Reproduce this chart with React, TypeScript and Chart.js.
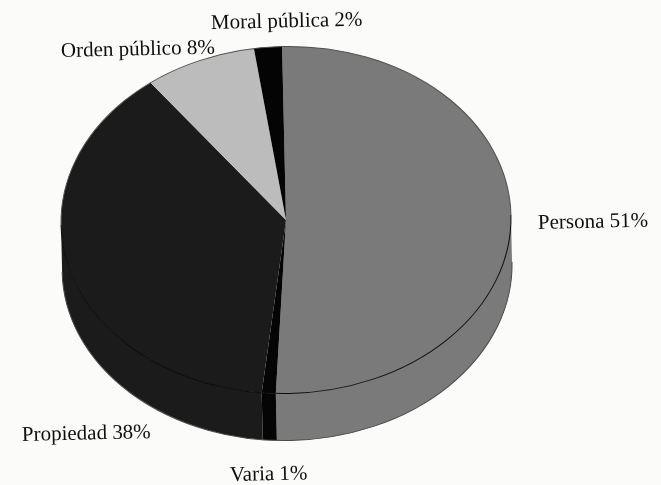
import React, { useEffect, useRef } from "react";
import { Chart, registerables } from "chart.js";

Chart.register(...registerables);

// Delitos por bien jurídico afectado, en porcentaje
const categories = ["Persona", "Varia", "Propiedad", "Orden público", "Moral pública"];
const percentages = [51, 1, 38, 8, 2];
const sliceColors = ["#7a7a7a", "#050505", "#1b1b1b", "#bcbcbc", "#040404"];

const PAPER = "#fbfbfa";
const FACE_CENTER_Y = 220;
const FACE_RADIUS_Y = 173.5;
const WALL_DEPTH = 47;
const PAGE_SKEW = (-1.3 * Math.PI) / 180;

// Pen position of each caption, in category order
const captionSpots: [number, number][] = [
  [538, 229],
  [230, 481],
  [22, 441],
  [61, 57],
  [211, 29],
];

const tiltedPie = {
  id: "tiltedPie",
  beforeDatasetsDraw(chart: any) {
    const { ctx } = chart;
    const arcs = chart.getDatasetMeta(0).data;
    const cx = arcs[0].x;
    const cy = arcs[0].y;
    const r = arcs[0].outerRadius;
    const squash = FACE_RADIUS_Y / r;

    // The whole pie leans with the printed page
    ctx.save();
    ctx.translate(cx, FACE_CENTER_Y);
    ctx.rotate(PAGE_SKEW);
    ctx.translate(-cx, -FACE_CENTER_Y);

    // Side wall: only the front half of the rim can be seen
    arcs.forEach((arc: any) => {
      const from = Math.max(arc.startAngle, 0);
      const to = Math.min(arc.endAngle, Math.PI);
      if (to <= from) return;
      ctx.beginPath();
      ctx.ellipse(cx, FACE_CENTER_Y, r, FACE_RADIUS_Y, 0, from, to);
      ctx.ellipse(cx, FACE_CENTER_Y + WALL_DEPTH, r, FACE_RADIUS_Y, 0, to, from, true);
      ctx.closePath();
      ctx.fillStyle = arc.options.backgroundColor;
      ctx.fill();
    });

    // Lower contour of the wall
    ctx.beginPath();
    ctx.ellipse(cx, FACE_CENTER_Y + WALL_DEPTH, r, FACE_RADIUS_Y, 0, 0, Math.PI);
    ctx.strokeStyle = "#4a4a4a";
    ctx.lineWidth = 1;
    ctx.stroke();

    // Top face, flattened from the library's round slices
    ctx.save();
    ctx.translate(cx, FACE_CENTER_Y);
    ctx.scale(1, squash);
    ctx.translate(-cx, -cy);
    arcs.forEach((arc: any) => arc.draw(ctx));
    ctx.restore();

    // Back of the rim is faint, its front edge is a sharp dark line
    ctx.beginPath();
    ctx.ellipse(cx, FACE_CENTER_Y, r, FACE_RADIUS_Y, 0, Math.PI, Math.PI * 2);
    ctx.strokeStyle = "#4f4f4f";
    ctx.lineWidth = 1;
    ctx.stroke();
    ctx.beginPath();
    ctx.ellipse(cx, FACE_CENTER_Y, r, FACE_RADIUS_Y, 0, 0, Math.PI);
    ctx.strokeStyle = "#0c0c0c";
    ctx.stroke();

    ctx.restore();
    return false;
  },
  afterDraw(chart: any) {
    const { ctx } = chart;
    ctx.save();
    ctx.fillStyle = "#0e0e0e";
    ctx.font = '21px "Liberation Serif"';
    ctx.textBaseline = "alphabetic";
    categories.forEach((name, i) => {
      const [x, y] = captionSpots[i];
      ctx.save();
      ctx.translate(x, y);
      ctx.rotate(PAGE_SKEW);
      ctx.fillText(`${name} ${percentages[i]}%`, 0, 0);
      ctx.restore();
    });
    ctx.restore();
  },
};

export default function App() {
  const canvasRef = useRef<HTMLCanvasElement>(null);

  useEffect(() => {
    document.body.style.margin = "0";
    document.body.style.background = PAPER;
    const chart = new Chart(canvasRef.current!, {
      type: "pie",
      data: {
        labels: categories,
        datasets: [
          {
            data: percentages,
            backgroundColor: sliceColors,
            borderWidth: 0,
            hoverOffset: 0,
          },
        ],
      },
      options: {
        responsive: false,
        animation: false,
        layout: { padding: { left: 61, right: 150, top: 0, bottom: 35 } },
        plugins: { legend: { display: false }, tooltip: { enabled: false } },
      },
      plugins: [tiltedPie],
    });
    return () => chart.destroy();
  }, []);

  return <canvas ref={canvasRef} width={661} height={485} style={{ display: "block" }} />;
}
